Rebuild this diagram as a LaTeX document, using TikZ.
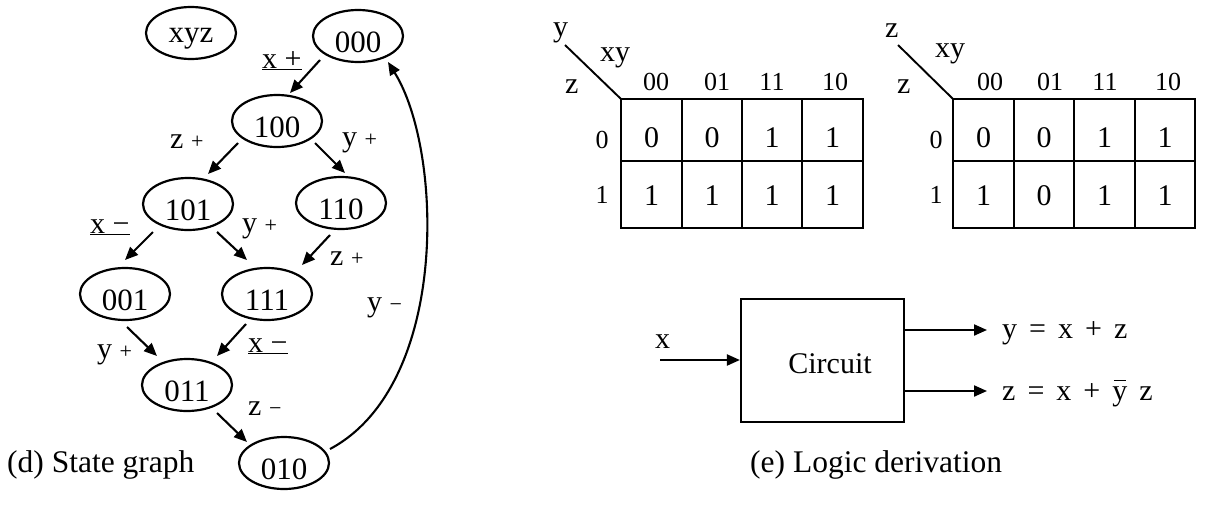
\documentclass[tikz,border=0pt]{standalone}
\usepackage{fontspec}
\setmainfont{Liberation Serif}
\usetikzlibrary{arrows.meta,shapes.geometric}
\newcommand{\gp}{\hspace{12pt}}
\newcommand{\sgn}[1]{{\fontsize{22}{26}\selectfont #1}}
\begin{document}
\begin{tikzpicture}[x=1pt,y=-1pt,
  st/.style={draw,ellipse,line width=2.2pt,minimum width=90pt,minimum height=52pt,inner sep=0pt,text height=32pt,text depth=0pt,font=\fontsize{31}{36}\selectfont},
  arr/.style={line width=2.1pt,-{Triangle[length=13pt,width=11pt]}},
  lbl/.style={anchor=base west,inner sep=0pt,font=\fontsize{30}{36}\selectfont},
  hdr/.style={anchor=base,inner sep=0pt,font=\fontsize{26}{30}\selectfont},
  val/.style={anchor=base,inner sep=0pt,font=\fontsize{30}{36}\selectfont},
  kgrid/.style={line width=2.2pt},
  captxt/.style={anchor=base west,inner sep=0pt,font=\fontsize{31.5}{36}\selectfont}]
\useasboundingbox (0,0) rectangle (1225,506);

% ---------- state graph ----------
\node[st,text height=19pt] (nxyz) at (191,33) {xyz};
\node[st] (n000) at (358,36) {000};
\node[st] (n100) at (277,121) {100};
\node[st] (n101) at (188,204) {101};
\node[st] (n110) at (341,203) {110};
\node[st] (n001) at (125,294) {001};
\node[st] (n111) at (267,294) {111};
\node[st] (n011) at (187,385) {011};
\node[st] (n010) at (284,463) {010};

\draw[arr] ([shift={(-38,24)}]n000.center) -- ([shift={(13,-28)}]n100.center);
\draw[arr] ([shift={(-39,22)}]n100.center) -- ([shift={(20,-30)}]n101.center);
\draw[arr] ([shift={(38,22)}]n100.center) -- ([shift={(4,-30)}]n110.center);
\draw[arr] ([shift={(-35,28)}]n101.center) -- ([shift={(0,-34)}]n001.center);
\draw[arr] ([shift={(29,28)}]n101.center) -- ([shift={(-20,-34)}]n111.center);
\draw[arr] ([shift={(-11,32)}]n110.center) -- ([shift={(35,-29)}]n111.center);
\draw[arr] ([shift={(2,33)}]n001.center) -- ([shift={(-30,-29)}]n011.center);
\draw[arr] ([shift={(-21,30)}]n111.center) -- ([shift={(30,-29)}]n011.center);
\draw[arr] ([shift={(30,28)}]n011.center) -- ([shift={(-37,-21)}]n010.center);
\draw[arr] ([shift={(46,-14)}]n010.center) .. controls ([shift={(166,-78)}]n010.center) and ([shift={(85,114)}]n000.center) .. ([shift={(30,26)}]n000.center);

\node[lbl] (lx1) at (262,68) {\underline{x +}};
\node[lbl] (lz1) at (170,148) {z \sgn{+}};
\node[lbl] (ly1) at (342,146) {y \sgn{+}};
\node[lbl] (lx2) at (90,233) {\underline{x −}};
\node[lbl] (ly2) at (242,232) {y \sgn{+}};
\node[lbl] (lz2) at (330,265) {z \sgn{+}};
\node[lbl] (ly3) at (97,358) {y \sgn{+}};
\node[lbl] (lx3) at (248,352) {\underline{x −}};
\node[lbl] (lz3) at (248,415) {z \sgn{−}};
\node[lbl] (ly4) at (367,311) {y \sgn{−}};

\node[captxt] (capd) at (7,472) {(d) State graph};

% ---------- K-map 1 ----------
\draw[kgrid] (621,99) rectangle (863,228);
\draw[kgrid] (621,161) -- (863,161);
\foreach \xx in {682,742,802} \draw[kgrid] (\xx,99) -- (\xx,228);
\coordinate (ka0) at (565,45);
\coordinate (ka1) at (621,99);
\draw[line width=1.9pt] (ka0) -- (ka1);
\node[lbl] (kay) at (553,36) {y};
\node[lbl] (kaxy) at (600,61) {xy};
\node[lbl] (kaz) at (565,93) {z};
\node[hdr] (kah1) at (656,90) {00};
\node[hdr] (kah2) at (717,90) {01};
\node[hdr] (kah3) at (772,90) {11};
\node[hdr] (kah4) at (835,90) {10};
\node[hdr] (kar0) at (602,148) {0};
\node[hdr] (kar1) at (602,203) {1};
\node[val] (ka00) at (651.5,147) {0};
\node[val] (ka01) at (712,147) {0};
\node[val] (ka02) at (772,147) {1};
\node[val] (ka03) at (832.5,147) {1};
\node[val] (ka10) at (651.5,205) {1};
\node[val] (ka11) at (712,205) {1};
\node[val] (ka12) at (772,205) {1};
\node[val] (ka13) at (832.5,205) {1};

% ---------- K-map 2 ----------
\draw[kgrid] (953,99) rectangle (1195,228);
\draw[kgrid] (953,161) -- (1195,161);
\foreach \xx in {1014,1074,1135} \draw[kgrid] (\xx,99) -- (\xx,228);
\coordinate (kb0) at (898,45);
\coordinate (kb1) at (953,99);
\draw[line width=1.9pt] (kb0) -- (kb1);
\node[lbl] (kbz) at (885,37) {z};
\node[lbl] (kbxy) at (935,57) {xy};
\node[lbl] (kbz2) at (897,93) {z};
\node[hdr] (kbh1) at (990,90) {00};
\node[hdr] (kbh2) at (1050,90) {01};
\node[hdr] (kbh3) at (1105,90) {11};
\node[hdr] (kbh4) at (1168,90) {10};
\node[hdr] (kbr0) at (936,148) {0};
\node[hdr] (kbr1) at (936,203) {1};
\node[val] (kb00) at (983.5,147) {0};
\node[val] (kb01) at (1044,147) {0};
\node[val] (kb02) at (1104.5,147) {1};
\node[val] (kb03) at (1165,147) {1};
\node[val] (kb10) at (983.5,205) {1};
\node[val] (kb11) at (1044,205) {0};
\node[val] (kb12) at (1104.5,205) {1};
\node[val] (kb13) at (1165,205) {1};

% ---------- circuit ----------
\node[draw,line width=2.2pt,minimum width=163pt,minimum height=123pt,inner sep=0pt] (box) at (822.5,360.5) {};
\node[val] (circ) at (830,373) {Circuit};
\coordinate (xin) at (660,360);
\node[lbl] (xl) at (655,348) {x};
\draw[arr] (xin) -- (xin -| box.west);
\coordinate (yo) at (987,330);
\coordinate (zo) at (987,391);
\draw[arr] (yo -| box.east) -- (yo);
\draw[arr] (zo -| box.east) -- (zo);
\node[lbl] (eqy) at (1002,338) {y\gp=\gp x\gp+\gp z};
\node[lbl] (eqz) at (1002,400) {z\gp=\gp x\gp+\gp \makebox[0pt][l]{\hspace{1.5pt}\rule[19pt]{12pt}{1.5pt}}y\gp z};

\node[captxt] (cape) at (750,472) {(e) Logic derivation};
\end{tikzpicture}
\end{document}
